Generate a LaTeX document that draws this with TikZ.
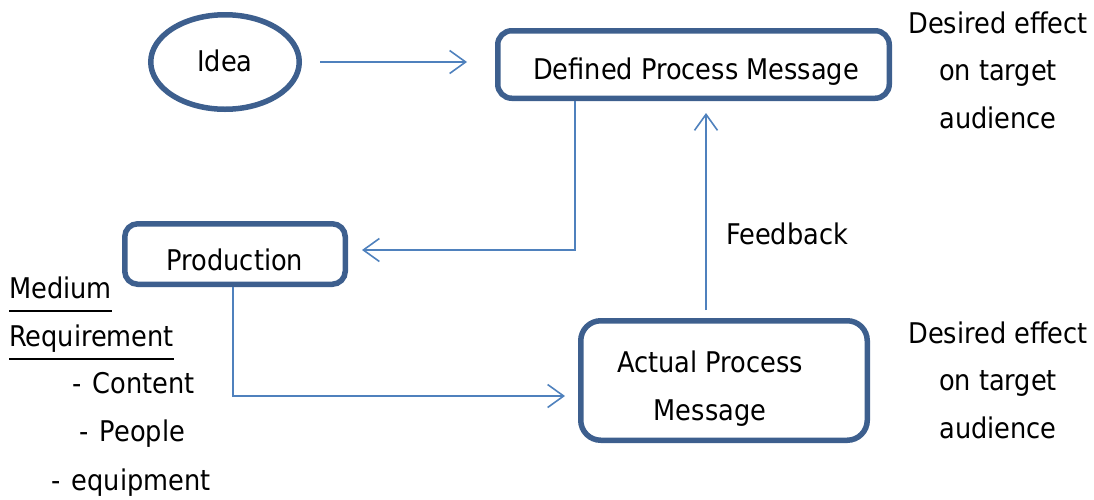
\documentclass[tikz,border=0pt]{standalone}
\usepackage{fontspec}
\setmainfont{DejaVu Sans Condensed}
\usetikzlibrary{arrows.meta,shapes.geometric}
\definecolor{boxblue}{HTML}{3D5F8E}
\definecolor{linkblue}{HTML}{4F81BD}
\begin{document}
\begin{tikzpicture}[x=1pt,y=-1pt,
  font=\fontsize{28.5}{47.5}\selectfont,
  box/.style={draw=boxblue, line width=5.5pt, inner sep=0pt},
  link/.style={draw=linkblue, line width=1.6pt, -{Straight Barb[length=16pt,width=23pt,line width=1.6pt]}},
  txt/.style={inner sep=0pt, align=center},
  uline/.style={draw=black, line width=1.6pt}]
\useasboundingbox (0,0) rectangle (1094,499);

% shapes
\node[box, ellipse, minimum width=148.5pt, minimum height=94.5pt] (idea) at (225,62) {};
\node[box, rounded corners=14pt, minimum width=391.5pt, minimum height=67.5pt] (def) at (693.5,64.5) {};
\node[box, rounded corners=13pt, minimum width=220.5pt, minimum height=60.5pt] (prod) at (235,254) {};
\node[box, rounded corners=20pt, minimum width=286.5pt, minimum height=119.5pt] (act) at (724,380.5) {};

% texts in shapes
\node[txt] (ideatext) at (225,61) {Idea};
\node[txt, anchor=base] (deftext) at (696,79) {Defined Process Message};
\node[txt] (prodtext) at (235,260) {Production};
\node[txt] (acttext) at (710,388.5) {Actual Process\\Message};

% side texts
\node[txt] (effect1) at (998,70) {Desired effect\\on target\\audience};
\node[txt] (effect2) at (998,380) {Desired effect\\on target\\audience};
\node[txt] (feedback) at (787,234) {Feedback};

\node[txt, anchor=base west] (medium) at (9,298) {Medium};
\node[txt, anchor=base west] (require) at (9,346) {Requirement};
\node[txt, anchor=base west] (content) at (72,393) {-\hspace{0.4em}Content};
\node[txt, anchor=base west] (people) at (79,441) {-\hspace{0.4em}People};
\node[txt, anchor=base west] (equip) at (51,490) {-\hspace{0.4em}equipment};
\draw[uline] ([yshift=-13pt]medium.base west) -- ([yshift=-13pt]medium.base east);
\draw[uline] ([yshift=-13pt]require.base west) -- ([yshift=-13pt]require.base east);

% connectors
\draw[link, shorten <=18pt, shorten >=28pt] (idea.east) -- (idea.east -| def.west);
\draw[link] ([xshift=-118.5pt]def.south) |- ([xshift=14pt,yshift=4pt]prod.east);
\draw[link] ([xshift=-2pt]prod.south) |- ([xshift=-13pt,yshift=-15.5pt]act.west);
\coordinate (fbstart) at ([xshift=-18pt,yshift=8pt]act.north);
\draw[link, shorten >=12pt] (fbstart) -- (fbstart |- def.south);
\end{tikzpicture}
\end{document}
